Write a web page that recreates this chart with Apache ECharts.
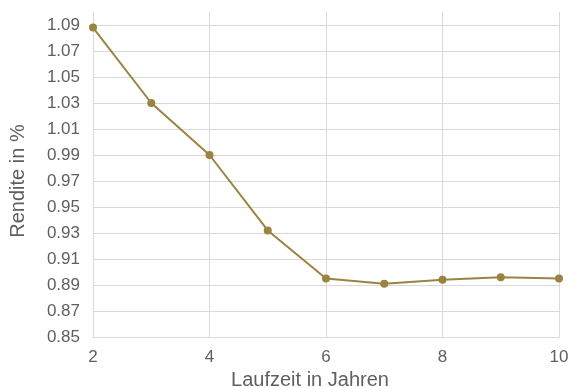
<!DOCTYPE html>
<html><head><meta charset="utf-8">
<script src="https://cdn.jsdelivr.net/npm/echarts@6/dist/echarts.min.js"></script>
<style>html,body{margin:0;padding:0;background:#fff}#c{width:570px;height:387px}</style>
</head><body><div id="c"></div>
<script>
const years = [2, 3, 4, 5, 6, 7, 8, 9, 10];
const yields = [1.088, 1.03, 0.99, 0.932, 0.895, 0.891, 0.894, 0.896, 0.895];
const xTitle = 'Laufzeit in Jahren';
const yTitle = 'Rendite in %';

const chart = echarts.init(document.getElementById('c'), null, {renderer: 'canvas'});
const font = 'Liberation Sans, Arial, sans-serif';
const gridCol = '#d9d9d9';
const textCol = '#5f5f5f';
chart.setOption({
  animation: false,
  grid: [
    {left: 93, right: 11, top: 25, bottom: 50, outerBoundsMode: 'none', containLabel: false},
    {left: 93, right: 11, top: 12, bottom: 50, outerBoundsMode: 'none', containLabel: false}
  ],
  xAxis: [{
    gridIndex: 0, type: 'value', min: 2, max: 10, interval: 2,
    axisLine: {show: true, lineStyle: {color: gridCol, width: 1}},
    axisTick: {show: false},
    splitLine: {show: false},
    axisLabel: {color: textCol, fontFamily: font, fontSize: 17, margin: 12},
    name: xTitle, nameLocation: 'middle', nameGap: 31,
    nameTextStyle: {color: textCol, fontFamily: font, fontSize: 20, padding: [0, 32, 0, 0]}
  }, {
    gridIndex: 1, type: 'value', min: 2, max: 10, interval: 2,
    axisLine: {show: false}, axisTick: {show: false}, axisLabel: {show: false},
    splitLine: {show: true, lineStyle: {color: gridCol, width: 1}}
  }],
  yAxis: [{
    gridIndex: 0, type: 'value', min: 0.85, max: 1.09, interval: 0.02,
    axisLine: {show: true, lineStyle: {color: gridCol, width: 1}},
    axisTick: {show: false},
    splitLine: {show: true, lineStyle: {color: gridCol, width: 1}},
    axisLabel: {color: textCol, fontFamily: font, fontSize: 17, margin: 13,
      formatter: v => v.toFixed(2)},
    name: yTitle, nameLocation: 'middle', nameGap: 65, nameRotate: 90,
    nameTextStyle: {color: textCol, fontFamily: font, fontSize: 20}
  }, {
    gridIndex: 1, type: 'value', min: 0, max: 1, show: false,
    splitLine: {show: false}
  }],
  series: [{
    type: 'line', xAxisIndex: 0, yAxisIndex: 0,
    data: years.map((y, i) => [y, yields[i]]),
    symbol: 'circle', symbolSize: 8,
    lineStyle: {color: '#9a8442', width: 2},
    itemStyle: {color: '#9a8442'}
  }]
});
</script></body></html>
